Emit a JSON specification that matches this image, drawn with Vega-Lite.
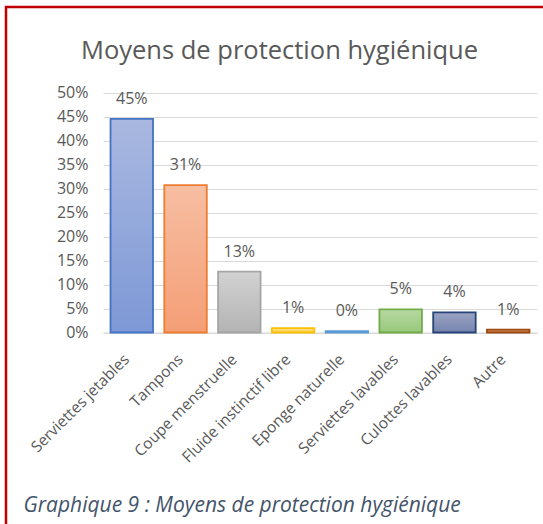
{
  "$schema": "https://vega.github.io/schema/vega-lite/v6.json",
  "width": 547,
  "height": 540,
  "autosize": {"type": "none"},
  "padding": {"left": 6, "top": 7, "right": -10, "bottom": -23},
  "background": "white",
  "config": {"view": {"stroke": "#c00000", "strokeWidth": 2.5}, "font": "Open Sans"},
  "title": {
    "text": "Moyens de protection hygiénique",
    "font": "Open Sans",
    "fontSize": 25.5,
    "fontWeight": "normal",
    "color": "#595959",
    "anchor": "middle",
    "frame": "group",
    "offset": 0,
    "baseline": "alphabetic",
    "dy": 77
  },
  "data": {
    "values": [
      {"cat": "Serviettes jetables", "value": 0.445},
      {"cat": "Tampons", "value": 0.307},
      {"cat": "Coupe menstruelle", "value": 0.127},
      {"cat": "Fluide instinctif libre", "value": 0.009},
      {"cat": "Eponge naturelle", "value": 0.003},
      {"cat": "Serviettes lavables", "value": 0.048},
      {"cat": "Culottes lavables", "value": 0.042},
      {"cat": "Autre", "value": 0.006}
    ]
  },
  "encoding": {
    "x": {
      "field": "cat",
      "type": "nominal",
      "sort": null,
      "scale": {"range": [97, 531], "paddingInner": 0.21, "paddingOuter": 0.14},
      "axis": {
        "title": "Graphique 9 : Moyens de protection hygiénique",
        "labelAngle": -45,
        "labelAlign": "right",
        "labelBaseline": "top",
        "labelPadding": 19,
        "labelOffset": -10,
        "labelFontSize": 15.5,
        "labelColor": "#595959",
        "labelLimit": 0,
        "ticks": false,
        "domain": true,
        "domainColor": "#d9d9d9",
        "domainWidth": 1,
        "offset": -214.5,
        "titleX": 17,
        "titleY": 178.5,
        "titleAlign": "left",
        "titleAnchor": null,
        "titleBaseline": "alphabetic",
        "titleFont": "Open Sans",
        "titleFontSize": 21,
        "titleFontStyle": "italic",
        "titleFontWeight": "normal",
        "titleColor": "#44546a"
      }
    },
    "y": {
      "field": "value",
      "type": "quantitative",
      "scale": {"domain": [0, 0.5], "range": [325.5, 85.5], "nice": false},
      "axis": {
        "title": null,
        "values": [0, 0.05, 0.1, 0.15, 0.2, 0.25, 0.3, 0.35, 0.4, 0.45, 0.5],
        "format": ".0%",
        "offset": -97,
        "labelPadding": 15,
        "ticks": false,
        "domain": false,
        "grid": true,
        "gridColor": "#d9d9d9",
        "labelFontSize": 16,
        "labelColor": "#595959"
      }
    }
  },
  "layer": [
    {
      "mark": {"type": "bar", "strokeWidth": 1.8},
      "encoding": {
        "stroke": {
          "field": "cat",
          "type": "nominal",
          "legend": null,
          "scale": {
            "domain": ["Serviettes jetables", "Tampons", "Coupe menstruelle", "Fluide instinctif libre", "Eponge naturelle", "Serviettes lavables", "Culottes lavables", "Autre"],
            "range": ["#4472c4", "#ed7d31", "#a5a5a5", "#ffc000", "#5b9bd5", "#70ad47", "#264478", "#9e480e"]
          }
        },
        "fill": {
          "condition": [
            {"test": "datum.cat === 'Serviettes jetables'", "value": {"gradient": "linear", "x1": 0, "y1": 0, "x2": 0, "y2": 1, "stops": [{"offset": 0, "color": "#a9b8e0"}, {"offset": 1, "color": "#7d98d6"}]}},
            {"test": "datum.cat === 'Tampons'", "value": {"gradient": "linear", "x1": 0, "y1": 0, "x2": 0, "y2": 1, "stops": [{"offset": 0, "color": "#f7bea2"}, {"offset": 1, "color": "#f49e76"}]}},
            {"test": "datum.cat === 'Coupe menstruelle'", "value": {"gradient": "linear", "x1": 0, "y1": 0, "x2": 0, "y2": 1, "stops": [{"offset": 0, "color": "#d2d2d2"}, {"offset": 1, "color": "#b3b3b3"}]}},
            {"test": "datum.cat === 'Fluide instinctif libre'", "value": {"gradient": "linear", "x1": 0, "y1": 0, "x2": 0, "y2": 1, "stops": [{"offset": 0, "color": "#ffe08a"}, {"offset": 1, "color": "#ffd24d"}]}},
            {"test": "datum.cat === 'Eponge naturelle'", "value": {"gradient": "linear", "x1": 0, "y1": 0, "x2": 0, "y2": 1, "stops": [{"offset": 0, "color": "#b0cbea"}, {"offset": 1, "color": "#8db6e4"}]}},
            {"test": "datum.cat === 'Serviettes lavables'", "value": {"gradient": "linear", "x1": 0, "y1": 0, "x2": 0, "y2": 1, "stops": [{"offset": 0, "color": "#b7d8a2"}, {"offset": 1, "color": "#98c87c"}]}},
            {"test": "datum.cat === 'Culottes lavables'", "value": {"gradient": "linear", "x1": 0, "y1": 0, "x2": 0, "y2": 1, "stops": [{"offset": 0, "color": "#9aa3c2"}, {"offset": 1, "color": "#7684ad"}]}},
            {"test": "datum.cat === 'Autre'", "value": {"gradient": "linear", "x1": 0, "y1": 0, "x2": 0, "y2": 1, "stops": [{"offset": 0, "color": "#d9a17c"}, {"offset": 1, "color": "#c97d4f"}]}}
          ],
          "value": "#cccccc"
        }
      }
    },
    {
      "mark": {"type": "text", "dy": -20, "fontSize": 16, "color": "#595959", "font": "Open Sans"},
      "encoding": {
        "text": {"field": "value", "type": "quantitative", "format": ".0%"}
      }
    }
  ]
}
